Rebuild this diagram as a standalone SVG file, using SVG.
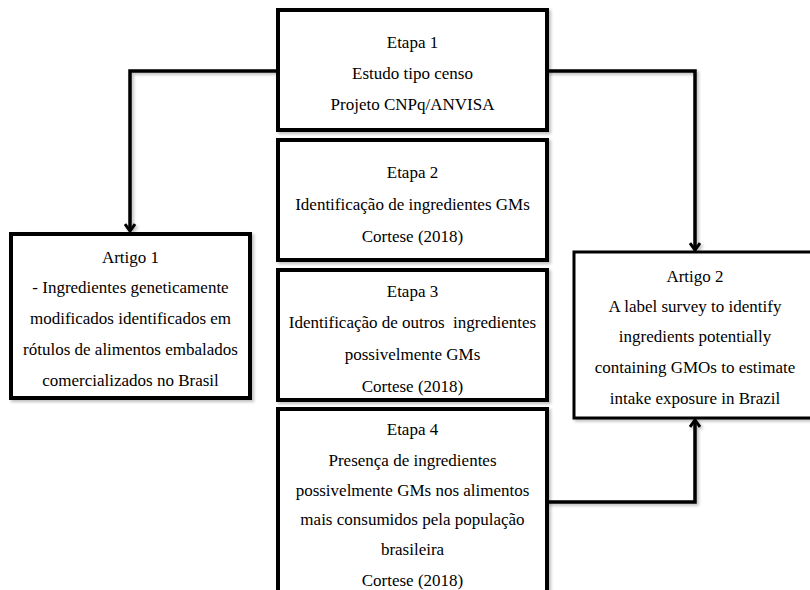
<svg xmlns="http://www.w3.org/2000/svg" width="810" height="590" viewBox="0 0 810 590">
  <style>
    .box { fill: #ffffff; stroke: #000000; stroke-width: 4; filter: url(#shadow); }
    .thin { stroke-width: 3; }
    .lbl { font-family: "Liberation Serif", "Times New Roman", serif; font-size: 17px; fill: #000000; text-anchor: middle; white-space: pre; }
    .wire { fill: none; stroke: #000000; stroke-width: 3.5; filter: url(#shadow); }
  </style>
  <defs>
    <filter id="shadow" x="-10%" y="-10%" width="130%" height="130%">
      <feDropShadow dx="2" dy="2" stdDeviation="1.5" flood-color="#000000" flood-opacity="0.25"/>
    </filter>
    <marker id="chev" viewBox="0 0 12 12" refX="10" refY="6" markerWidth="12" markerHeight="12" markerUnits="userSpaceOnUse" orient="auto">
      <path d="M3,1 L10,6 L3,11" fill="none" stroke="#000000" stroke-width="3"/>
    </marker>
  </defs>

  <rect width="810" height="590" fill="#ffffff"/>

  <!-- connectors -->
  <g id="connectors">
    <path class="wire" d="M278,71 H130 V231" marker-end="url(#chev)"/>
    <path class="wire" d="M278,200 H130"/>
    <path class="wire" d="M546,71 H695 V250" marker-end="url(#chev)"/>
    <path class="wire" d="M547,336 H572" marker-end="url(#chev)"/>
    <path class="wire" d="M547,502 H695 V420" marker-end="url(#chev)"/>
  </g>

  <g id="etapa1">
    <rect class="box" x="278" y="10" width="269" height="120"/>
    <text class="lbl" x="412.5" y="48">Etapa 1</text>
    <text class="lbl" x="412.5" y="79">Estudo tipo censo</text>
    <text class="lbl" x="412.5" y="110">Projeto CNPq/ANVISA</text>
  </g>

  <g id="etapa2">
    <rect class="box" x="278" y="140" width="269" height="120"/>
    <text class="lbl" x="412.5" y="178">Etapa 2</text>
    <text class="lbl" x="412.5" y="210">Identificação de ingredientes GMs</text>
    <text class="lbl" x="412.5" y="242">Cortese (2018)</text>
  </g>

  <g id="etapa3">
    <rect class="box" x="278" y="270" width="269" height="130"/>
    <text class="lbl" x="412.5" y="297">Etapa 3</text>
    <text class="lbl" x="412.5" y="328">Identificação de outros  ingredientes</text>
    <text class="lbl" x="412.5" y="360">possivelmente GMs</text>
    <text class="lbl" x="412.5" y="392">Cortese (2018)</text>
  </g>

  <g id="etapa4">
    <rect class="box" x="278" y="409" width="269" height="200"/>
    <text class="lbl" x="412.5" y="435">Etapa 4</text>
    <text class="lbl" x="412.5" y="466">Presença de ingredientes</text>
    <text class="lbl" x="412.5" y="496">possivelmente GMs nos alimentos</text>
    <text class="lbl" x="412.5" y="525">mais consumidos pela população</text>
    <text class="lbl" x="412.5" y="555">brasileira</text>
    <text class="lbl" x="412.5" y="586">Cortese (2018)</text>
  </g>

  <g id="artigo1">
    <rect class="box" x="11" y="234" width="239" height="164"/>
    <text class="lbl" x="130.5" y="263">Artigo 1</text>
    <text class="lbl" x="130.5" y="293">- Ingredientes geneticamente</text>
    <text class="lbl" x="130.5" y="324">modificados identificados em</text>
    <text class="lbl" x="130.5" y="355">rótulos de alimentos embalados</text>
    <text class="lbl" x="130.5" y="386">comercializados no Brasil</text>
  </g>

  <g id="artigo2">
    <rect class="box thin" x="574" y="252" width="245" height="166"/>
    <text class="lbl" x="695" y="282">Artigo 2</text>
    <text class="lbl" x="695" y="312">A label survey to identify</text>
    <text class="lbl" x="695" y="342">ingredients potentially</text>
    <text class="lbl" x="695" y="373">containing GMOs to estimate</text>
    <text class="lbl" x="695" y="404">intake exposure in Brazil</text>
  </g>
</svg>
